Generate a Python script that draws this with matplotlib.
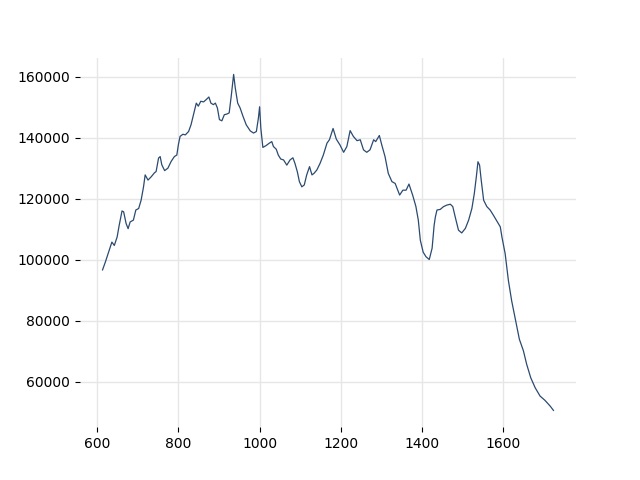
import matplotlib
matplotlib.use("Agg")
import matplotlib.pyplot as plt

wavelength = [613, 620, 628, 636, 642, 649, 654, 661, 665, 671, 676, 681, 689, 695,
              702, 708, 714, 718, 725, 733, 741, 745, 751, 755, 759, 766, 774, 782,
              790, 796, 800, 804, 811, 817, 825, 831, 837, 844, 849, 855, 862, 868,
              875, 880, 886, 891, 896, 901, 907, 913, 919, 925, 930, 936, 940, 946,
              952, 959, 967, 977, 985, 992, 997, 1000, 1003, 1008, 1016, 1024, 1030,
              1034, 1041, 1046, 1052, 1059, 1067, 1075, 1082, 1087, 1093, 1098, 1104,
              1110, 1116, 1123, 1129, 1134, 1141, 1149, 1157, 1166, 1172, 1181, 1189,
              1198, 1207, 1215, 1223, 1231, 1240, 1248, 1256, 1264, 1272, 1281, 1286,
              1295, 1301, 1309, 1317, 1326, 1334, 1345, 1353, 1361, 1368, 1377, 1385,
              1391, 1396, 1403, 1410, 1418, 1425, 1430, 1433, 1437, 1445, 1453, 1461,
              1470, 1476, 1482, 1490, 1498, 1507, 1515, 1523, 1529, 1534, 1538, 1542,
              1546, 1552, 1560, 1568, 1576, 1586, 1593, 1597, 1605, 1613, 1621, 1630,
              1640, 1650, 1658, 1668, 1679, 1691, 1703, 1716, 1724]
counts_k = [96.7, 99.3, 102.5, 105.8, 104.7, 107.5, 111.3, 116.0, 115.7, 111.9, 110.2,
            112.4, 113.0, 116.3, 116.8, 119.5, 123.9, 127.8, 126.1, 127.2, 128.5, 128.9,
            133.3, 133.8, 131.1, 129.2, 130.0, 132.2, 133.8, 134.3, 137.8, 140.4, 141.1,
            140.9, 142.0, 144.2, 147.5, 151.3, 150.3, 151.9, 151.7, 152.4, 153.3, 151.3,
            150.8, 151.3, 149.7, 145.9, 145.5, 147.5, 147.7, 148.1, 153.5, 160.7, 156.3,
            151.3, 149.7, 147.0, 144.2, 142.2, 141.5, 142.0, 146.4, 150.1, 143.1, 136.8,
            137.4, 138.2, 138.7, 137.1, 136.2, 134.3, 133.0, 132.7, 131.0, 132.7, 133.4,
            131.6, 128.8, 125.6, 123.9, 124.5, 127.8, 130.5, 127.8, 128.3, 129.4, 131.6,
            134.3, 138.2, 139.3, 143.0, 139.5, 137.6, 135.2, 137.1, 142.3, 140.4, 139.0,
            139.3, 136.0, 135.2, 136.0, 139.3, 138.7, 140.7, 137.6, 133.8, 128.3, 125.6,
            125.0, 121.2, 122.8, 122.8, 124.8, 121.2, 117.5, 113.0, 106.4, 102.5, 101.0,
            100.1, 103.8, 111.3, 114.0, 116.3, 116.5, 117.4, 117.9, 118.2, 117.4, 114.0,
            109.7, 108.8, 110.3, 113.0, 116.8, 121.7, 127.2, 132.1, 131.0, 126.1, 119.5,
            117.4, 116.3, 114.6, 112.4, 110.8, 107.5, 102.0, 93.2, 86.6, 80.6, 74.0,
            70.2, 65.8, 61.4, 58.1, 55.4, 54.0, 52.1, 50.7]
counts = [v * 1000 for v in counts_k]

fig, ax = plt.subplots(figsize=(6.4, 4.8), dpi=100)
ax.plot(wavelength, counts, color="#2b4a70", linewidth=0.9, zorder=3)
ax.grid(True, color="#e6e6e6", linewidth=1)
ax.set_axisbelow(True)
for s in ax.spines.values():
    s.set_visible(False)
fig.savefig("out.png", dpi=100)
